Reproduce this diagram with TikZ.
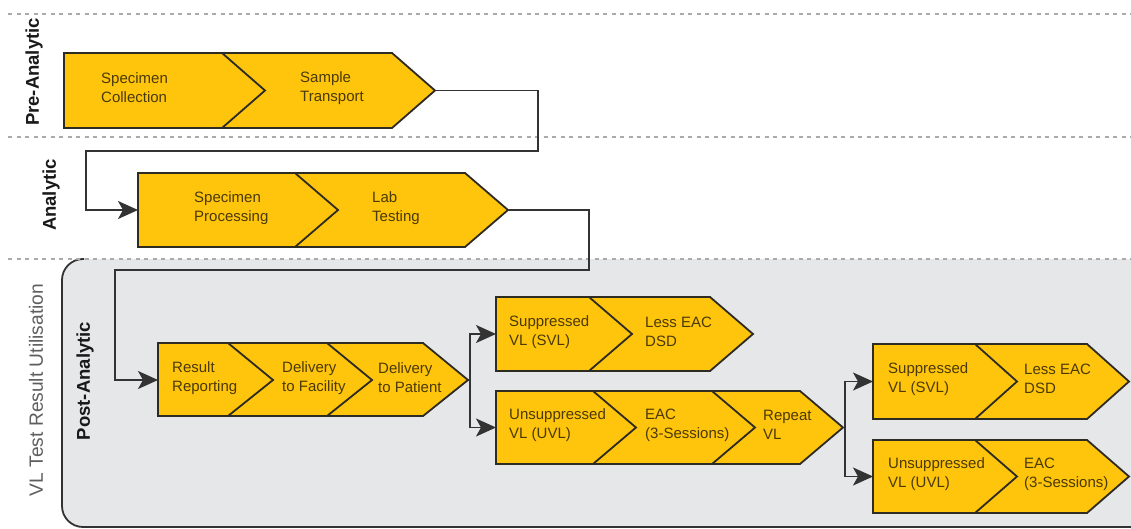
\documentclass[tikz,border=0pt]{standalone}
\usepackage{fontspec}
\setmainfont{Liberation Sans}
\usetikzlibrary{arrows.meta}
\definecolor{chevfill}{HTML}{FFC40C}
\definecolor{chevline}{HTML}{2E2B22}
\definecolor{chevtext}{HTML}{4A3A06}
\definecolor{connc}{HTML}{333333}
\definecolor{regionfill}{HTML}{E6E7E9}
\definecolor{dashc}{HTML}{ABABAB}
\definecolor{sidetext}{HTML}{5E5E5E}
\tikzset{
  chev/.style={fill=chevfill, draw=chevline, line width=1.8pt, line join=miter},
  divline/.style={draw=chevline, line width=1.8pt},
  conn/.style={draw=connc, line width=1.8pt, arrows={-Stealth[length=20pt,width=18pt,inset=5pt]}},
  lbl/.style={font=\fontsize{15}{19}\selectfont, text=chevtext, align=left, anchor=west, inner sep=0pt},
  sep/.style={draw=dashc, line width=2pt, dash pattern=on 4pt off 4.5pt},
  phase/.style={rotate=90, font=\bfseries\fontsize{18.5}{20}\selectfont, text=black!90, inner sep=0pt}
}
\newcommand{\chevrow}[8]{%
  \draw[chev] (#2,#3) -- (#6,#3) -- ({#6+#7},#4) -- (#6,#5) -- (#2,#5) -- cycle;
  \foreach \dx in {#8} {\draw[divline] (\dx,#3) -- ({\dx+#7},#4) -- (\dx,#5);}
  \coordinate (#1-in) at (#2,#4);
  \coordinate (#1-out) at ({#6+#7},#4);
}
\begin{document}
\begin{tikzpicture}[x=1pt,y=-1pt]
\useasboundingbox (0,0) rectangle (1131,529);
\clip (0,0) rectangle (1131,529);
% post-analytic region
\fill[regionfill, rounded corners=21pt] (1160,259) -- (62,259) -- (62,527) -- (1160,527) -- cycle;
\draw[connc, line width=1.8pt, rounded corners=21pt] (84,259) -- (62,259) -- (62,527) -- (1160,527);
% separators
\draw[sep] (8,14) -- (1131,14);
\draw[sep] (8,137) -- (1131,137);
\draw[sep] (8,259) -- (1131,259);
% phase labels
\node[phase] (lpre) at (34,72) {Pre-Analytic};
\node[phase] (lana) at (51,195) {Analytic};
\node[phase] (lpost) at (85,381) {Post-Analytic};
\node[rotate=90, font=\fontsize{19.2}{20}\selectfont, text=sidetext, inner sep=0pt] (lvl) at (36,390) {VL Test Result Utilisation};
% chevron rows
\chevrow{r1}{64}{53}{90.5}{128}{392}{43}{222}
\chevrow{r2}{138}{173}{210}{247}{465}{43}{295}
\chevrow{r3}{158}{343}{380}{416}{423}{45}{228,327}
\chevrow{r4a}{496}{297}{334}{371}{710}{43}{589}
\chevrow{r4b}{496}{391}{427.5}{464}{800}{43}{593,712}
\chevrow{r5a}{873}{344}{381.5}{419}{1087}{42}{975}
\chevrow{r5b}{873}{440}{476.5}{513}{1087}{42}{975}
% texts
\node[lbl] (t11) at (101,88) {Specimen\\Collection};
\node[lbl] (t12) at (300,88) {Sample\\Transport};
\node[lbl] (t21) at (194,208) {Specimen\\Processing};
\node[lbl] (t22) at (372,208) {Lab\\Testing};
\node[lbl] (t31) at (172,378) {Result\\Reporting};
\node[lbl] (t32) at (282,378) {Delivery\\to Facility};
\node[lbl] (t33) at (378,378) {Delivery\\to Patient};
\node[lbl] (t41) at (509,332) {Suppressed\\VL (SVL)};
\node[lbl] (t42) at (645,332) {Less EAC\\DSD};
\node[lbl] (t43) at (509,425) {Unsuppressed\\VL (UVL)};
\node[lbl] (t44) at (645,425) {EAC\\(3-Sessions)};
\node[lbl] (t45) at (763,425) {Repeat\\VL};
\node[lbl] (t51) at (888,379) {Suppressed\\VL (SVL)};
\node[lbl] (t52) at (1024,379) {Less EAC\\DSD};
\node[lbl] (t53) at (888,474) {Unsuppressed\\VL (UVL)};
\node[lbl] (t54) at (1024,474) {EAC\\(3-Sessions)};
% connectors
\coordinate (k1) at (538,151);
\coordinate (k2) at (86,151);
\coordinate (k3) at (589,270);
\coordinate (k4) at (115,270);
\draw[conn] (r1-out) -| (k1) -- (k2) |- (r2-in);
\draw[conn] (r2-out) -| (k3) -- (k4) |- (r3-in);
\coordinate (b1) at (470,380);
\coordinate (b2) at (845,427.5);
\draw[conn] (r3-out) -- (b1) |- (r4a-in);
\draw[conn] (r3-out) -- (b1) |- (r4b-in);
\draw[conn] (r4b-out) -- (b2) |- (r5a-in);
\draw[conn] (r4b-out) -- (b2) |- (r5b-in);
\end{tikzpicture}
\end{document}
